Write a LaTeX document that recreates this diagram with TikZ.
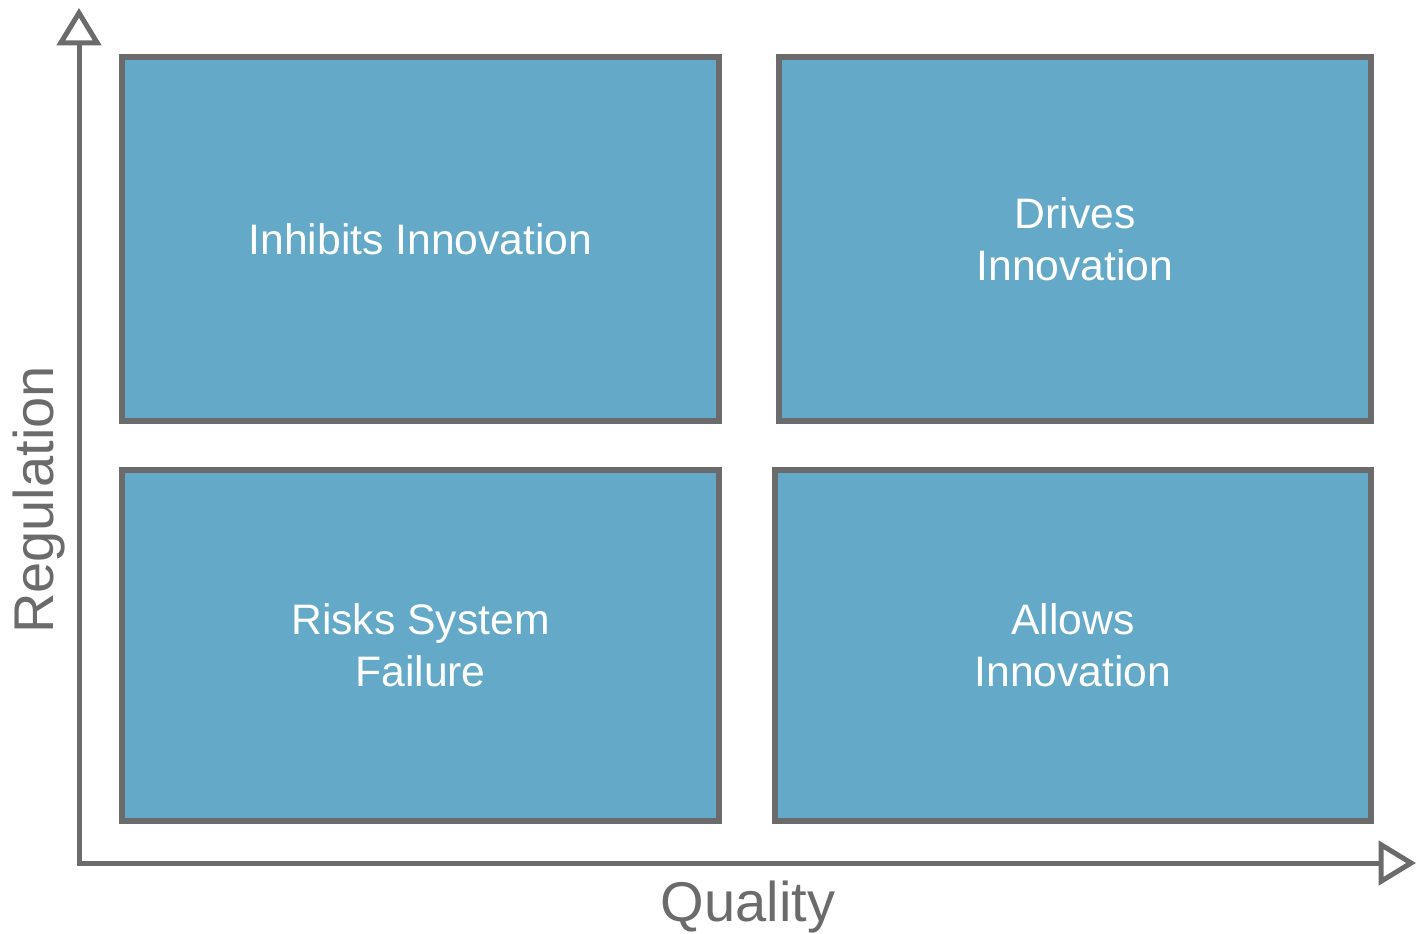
\documentclass[tikz,border=0pt]{standalone}
\usepackage{fontspec}
\setmainfont{Liberation Sans}
\usepackage{xcolor}
\usetikzlibrary{positioning}
\usetikzlibrary{arrows.meta}
\definecolor{quadblue}{RGB}{100,169,199}
\definecolor{framegray}{RGB}{107,107,107}
\tikzset{
  quadrant/.style={draw=framegray, fill=quadblue, line width=4.5pt,
    text=white, align=center, inner sep=0pt,
    font=\fontsize{32}{39}\selectfont},
  axislabel/.style={text=framegray, inner sep=0pt,
    font=\fontsize{42}{50}\selectfont},
  axisline/.style={draw=framegray, line width=3.75pt,
    {Triangle[open,length=28pt,width=33pt]}-{Triangle[open,length=28pt,width=33pt]}}
}

\begin{document}
\begin{tikzpicture}[x=0.75pt,y=-0.75pt]
\useasboundingbox (0,0) rectangle (1422,933);

% Quadrants
\node[quadrant,
    minimum width=447.75pt,
    minimum height=273pt
    ] (inhibits) at (420.5,239) {Inhibits Innovation};
\node[quadrant,
    minimum width=444pt,
    minimum height=273pt
    ] (drives) at (1075,239) {Drives\\Innovation};
\node[quadrant,
    minimum width=447.75pt,
    minimum height=263.25pt
    ] (risks) at (420.5,645.5) {Risks System\\Failure};
\node[quadrant,
    minimum width=447pt,
    minimum height=263.25pt
    ] (allows) at (1073,645.5) {Allows\\Innovation};

% Axes
\coordinate (ytip) at (79,8);
\coordinate (xtip) at (1416,863);
\draw[axisline] (ytip) |- (xtip);

\node[axislabel, rotate=90] (regulation) at (39,500) {Regulation};
\node[axislabel] (quality) at (748,907) {Quality};
\end{tikzpicture}
\end{document}
